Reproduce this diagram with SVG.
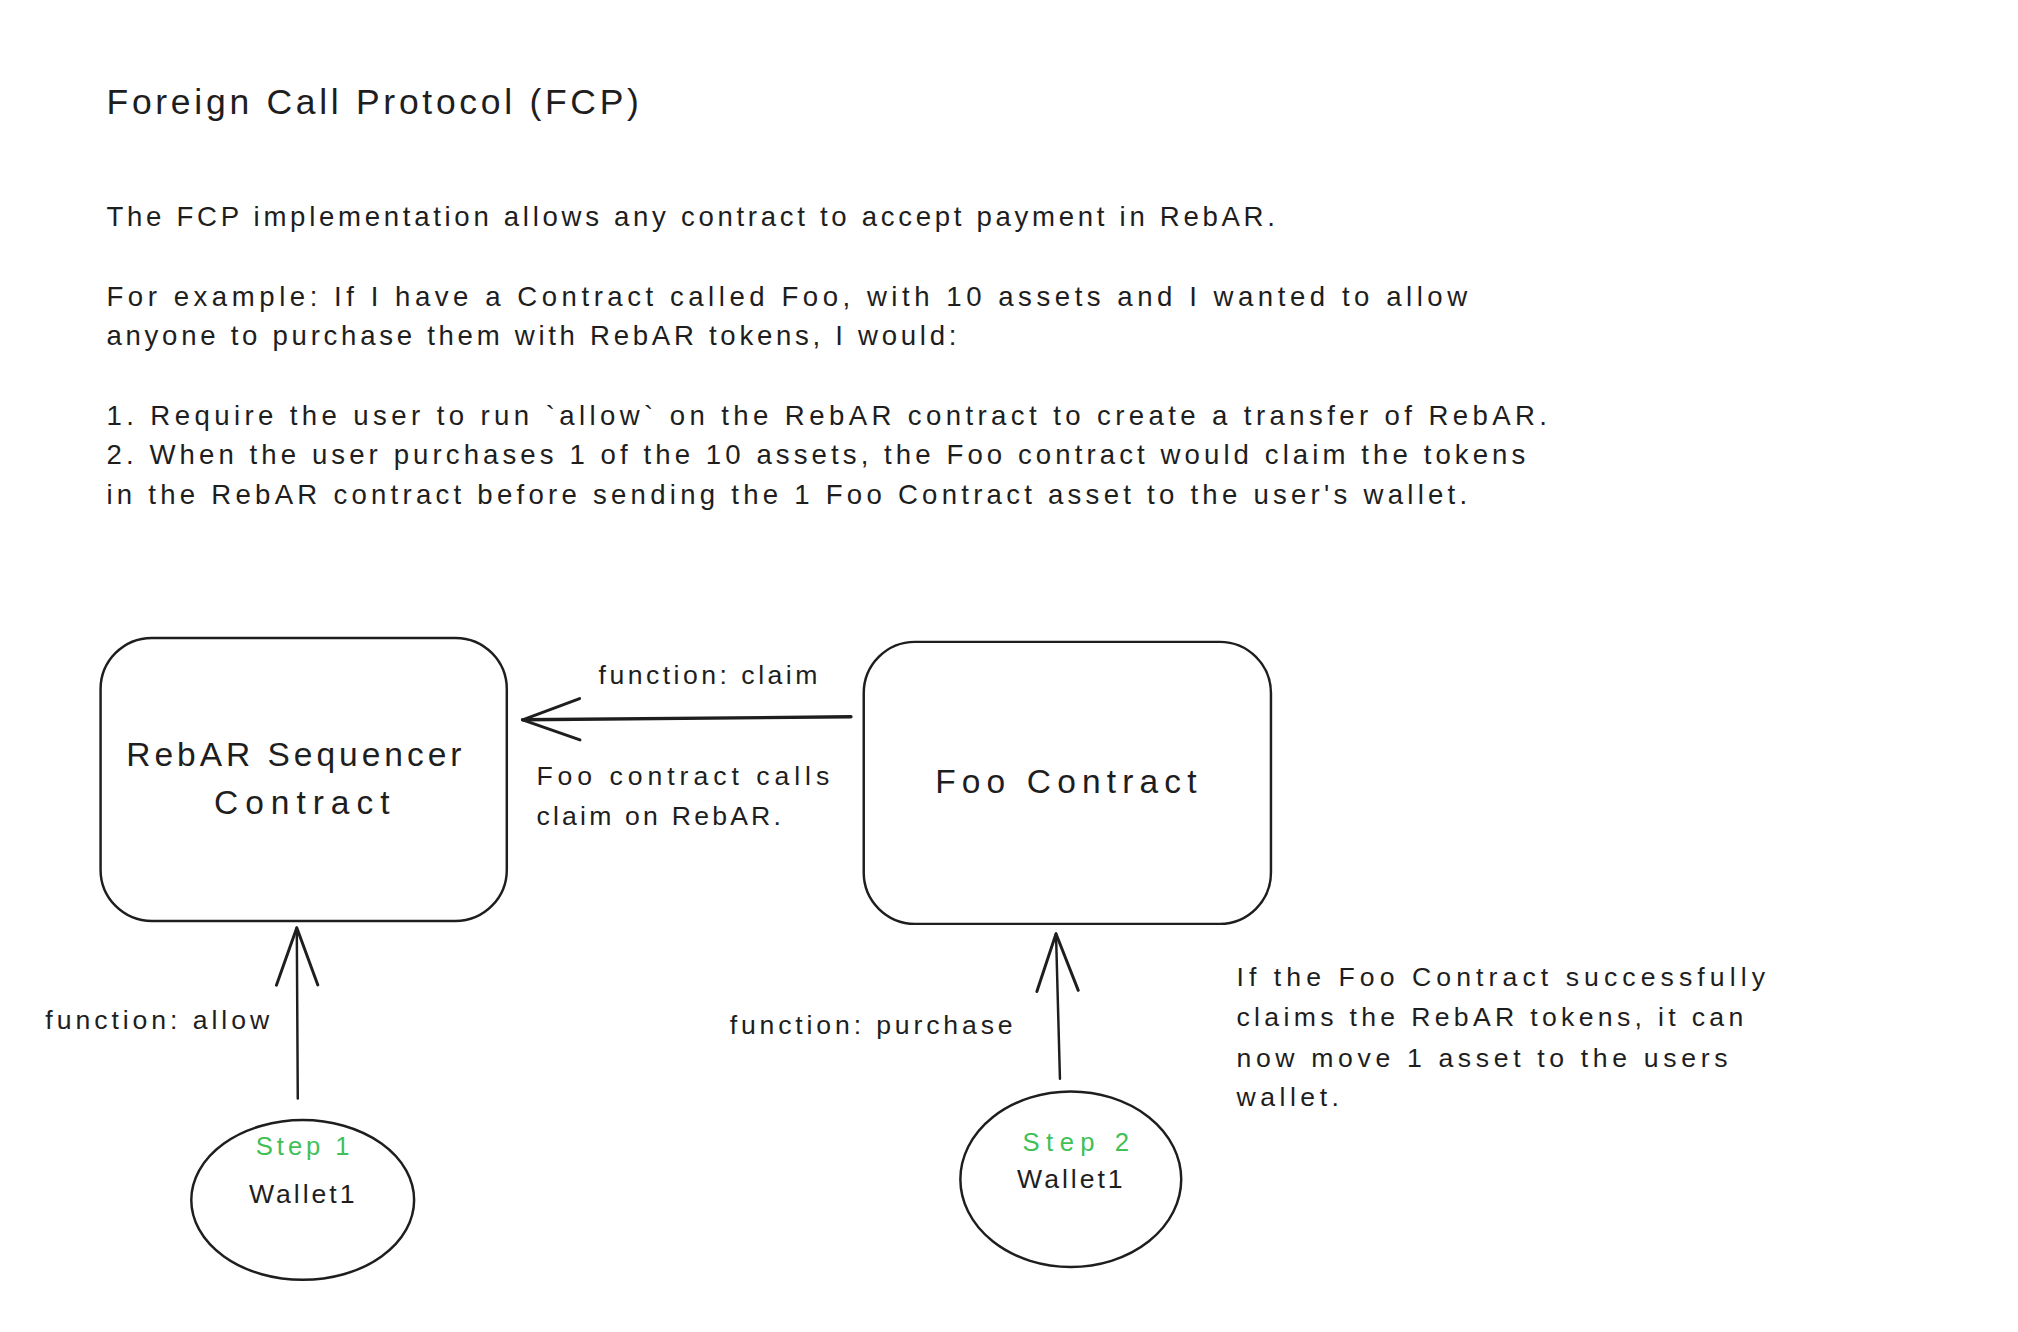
<svg xmlns="http://www.w3.org/2000/svg" width="2018" height="1332" viewBox="0 0 2018 1332">
<style>
  text { font-family: "Liberation Sans", "DejaVu Sans", sans-serif; fill: #1e1e1e; }
  .title { font-size: 36px; }
  .body { font-size: 28px; }
  .label { font-size: 27px; }
  .node { font-size: 34px; }
  .step { font-size: 26px; fill: #40c057; }
  .shape { fill: none; stroke: #1e1e1e; stroke-width: 2.5; stroke-linecap: round; stroke-linejoin: round; }
  .conn { fill: none; stroke: #1e1e1e; stroke-linecap: round; }
</style>
<defs>
  <marker id="vhead" markerUnits="userSpaceOnUse" markerWidth="80" markerHeight="60" refX="60" refY="25" orient="auto" viewBox="0 0 80 50">
    <path d="M2 4 L60 25 L2 46" fill="none" stroke="#1e1e1e" stroke-width="3" stroke-linecap="round" stroke-linejoin="round"/>
  </marker>
</defs>
<rect width="2018" height="1332" fill="#ffffff"/>

<g transform="scale(0.986)">
<g id="description">
  <text class="title" x="108" y="116" textLength="540">Foreign Call Protocol (FCP)</text>
  <text class="body" x="108" y="229" textLength="1185">The FCP implementation allows any contract to accept payment in RebAR.</text>
  <text class="body" x="108" y="310" textLength="1380">For example: If I have a Contract called Foo, with 10 assets and I wanted to allow</text>
  <text class="body" x="108" y="350" textLength="862">anyone to purchase them with RebAR tokens, I would:</text>
  <text class="body" x="108" y="431" textLength="1461">1. Require the user to run `allow` on the RebAR contract to create a transfer of RebAR.</text>
  <text class="body" x="108" y="471" textLength="1439">2. When the user purchases 1 of the 10 assets, the Foo contract would claim the tokens</text>
  <text class="body" x="108" y="511" textLength="1380">in the RebAR contract before sending the 1 Foo Contract asset to the user's wallet.</text>
</g>

<g id="rebar-sequencer">
  <rect class="shape" x="102" y="647" width="412" height="287" rx="52"/>
  <text class="node" x="298" y="777" text-anchor="middle" textLength="340">RebAR Sequencer</text>
  <text class="node" x="306" y="826" text-anchor="middle" textLength="178">Contract</text>
</g>

<g id="foo-contract">
  <rect class="shape" x="876" y="651" width="413" height="286" rx="52"/>
  <text class="node" x="1081" y="804" text-anchor="middle" textLength="265">Foo Contract</text>
</g>

<g id="wallet-step1">
  <ellipse class="shape" cx="307" cy="1217" rx="113" ry="81"/>
  <text class="step" x="307" y="1171" text-anchor="middle" textLength="95">Step 1</text>
  <text class="label" x="306" y="1220" text-anchor="middle" textLength="107">Wallet1</text>
</g>

<g id="wallet-step2">
  <ellipse class="shape" cx="1086" cy="1196" rx="112" ry="89"/>
  <text class="step" x="1091" y="1167" text-anchor="middle" textLength="108">Step 2</text>
  <text class="label" x="1085" y="1205" text-anchor="middle" textLength="107">Wallet1</text>
</g>

<g id="note">
  <text class="label" x="1254" y="1000" textLength="536">If the Foo Contract successfully</text>
  <text class="label" x="1254" y="1041" textLength="514">claims the RebAR tokens, it can</text>
  <text class="label" x="1254" y="1082" textLength="498">now move 1 asset to the users</text>
  <text class="label" x="1254" y="1122" textLength="104">wallet.</text>
</g>

<g id="connectors">
  <path class="conn" stroke-width="3.5" d="M863 727 L530 730" marker-end="url(#vhead)"/>
  <text class="label" x="607" y="694" textLength="222">function: claim</text>
  <text class="label" x="544" y="796" textLength="297">Foo contract calls</text>
  <text class="label" x="544" y="837" textLength="248">claim on RebAR.</text>

  <path class="conn" stroke-width="2.5" d="M302 1114 L301 941" marker-end="url(#vhead)"/>
  <text class="label" x="46" y="1044" textLength="227">function: allow</text>

  <path class="conn" stroke-width="2.5" d="M1075 1094 L1071 947" marker-end="url(#vhead)"/>
  <text class="label" x="740" y="1049" textLength="287">function: purchase</text>
</g>
</g>
</svg>
